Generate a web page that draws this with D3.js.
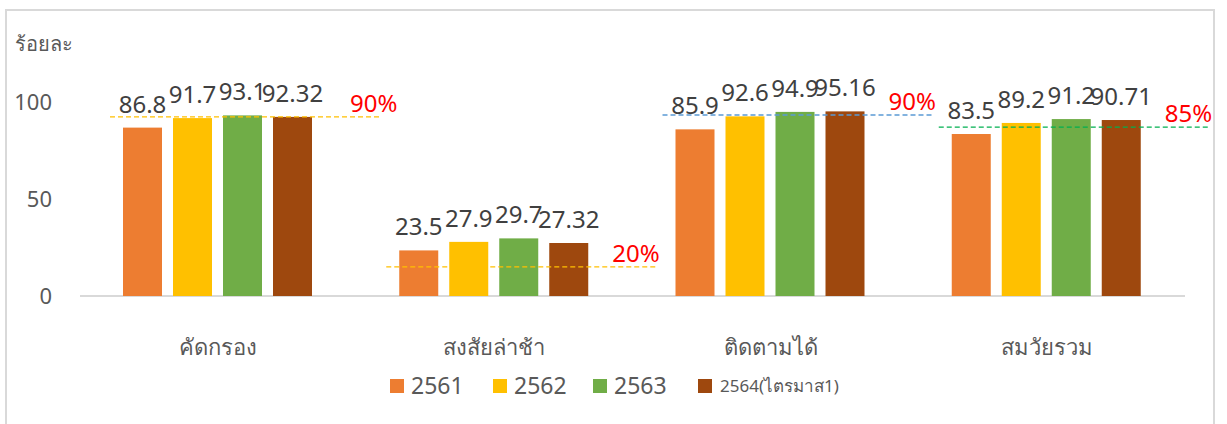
<!DOCTYPE html>
<html>
<head>
<meta charset="utf-8">
<script src="https://cdn.jsdelivr.net/npm/d3@7"></script>
<style>
  body { margin: 0; background: #fff; }
  svg { font-family: "Noto Sans", "Open Sans", sans-serif; }
</style>
</head>
<body>
<div id="chart"></div>
<script>
const categories = ["คัดกรอง", "สงสัยล่าช้า", "ติดตามได้", "สมวัยรวม"];
const seriesNames = ["2561", "2562", "2563", "2564(ไตรมาส1)"];
const v2561 = [86.8, 23.5, 85.9, 83.5];
const v2562 = [91.7, 27.9, 92.6, 89.2];
const v2563 = [93.1, 29.7, 94.9, 91.2];
const v2564 = [92.32, 27.32, 95.16, 90.71];
const targetLines = [92.3, 15, 93.3, 87];
const targetLabels = ["90%", "20%", "90%", "85%"];
const yTicks = [0, 50, 100];

const colors = ["#ED7D31", "#FFC000", "#70AD47", "#9E480E"];
const lineColors = ["#FFC000", "#FFC000", "#5B9BD5", "#00B050"];

const W = 1227, H = 424;
const MARGIN = {top: 102, left: 80, right: 42, bottom: 128};
const series = [v2561, v2562, v2563, v2564];

const svg = d3.select("#chart").append("svg")
    .attr("width", W).attr("height", H);

// outer frame
svg.append("rect")
    .attr("x", 6).attr("y", 10)
    .attr("width", 1208).attr("height", 430)
    .attr("fill", "none")
    .attr("stroke", "#d9d9d9")
    .attr("stroke-width", 2);

var x = d3.scaleBand()
    .domain(categories)
    .range([MARGIN.left, W - MARGIN.right]);

var xi = d3.scaleBand()
    .domain(seriesNames)
    .range([43, 43 + 189])
    .paddingInner(0.22);

var y = d3.scaleLinear()
    .domain([0, 100])
    .range([296, 102]);

// y tick labels
svg.append("g").selectAll("text")
    .data(yTicks).join("text")
    .attr("x", 52)
    .attr("y", d => y(d))
    .attr("dy", "0.35em")
    .attr("text-anchor", "end")
    .attr("fill", "#595959")
    .attr("font-size", 22)
    .text(d => d);

svg.append("text")
    .attr("x", 15).attr("y", 51)
    .attr("fill", "#595959")
    .attr("font-size", 20)
    .text("ร้อยละ");

// baseline
svg.append("line")
    .attr("x1", MARGIN.left).attr("x2", W - MARGIN.right)
    .attr("y1", y(0)).attr("y2", y(0))
    .attr("stroke", "#d9d9d9").attr("stroke-width", 2);

// bars
const groups = svg.append("g").selectAll("g")
    .data(categories).join("g")
    .attr("transform", d => `translate(${x(d)},0)`);

series.forEach((vals, si) => {
    groups.append("rect")
        .attr("x", xi(seriesNames[si]))
        .attr("width", xi.bandwidth())
        .attr("y", (d, i) => y(vals[i]))
        .attr("height", (d, i) => y(0) - y(vals[i]))
        .attr("fill", colors[si]);
});

// target lines
groups.append("line")
    .attr("x1", 30).attr("x2", 302)
    .attr("y1", (d, i) => y(targetLines[i]))
    .attr("y2", (d, i) => y(targetLines[i]))
    .attr("stroke", (d, i) => lineColors[i])
    .attr("stroke-width", 1.3)
    .attr("stroke-dasharray", "5,3");

// value labels
series.forEach((vals, si) => {
    groups.append("text")
        .attr("x", xi(seriesNames[si]) + xi.bandwidth() / 2)
        .attr("y", (d, i) => y(vals[i]) - 15)
        .attr("text-anchor", "middle")
        .attr("fill", "#404040")
        .attr("font-size", 24)
        .text((d, i) => vals[i]);
});

// target labels
groups.append("text")
    .attr("x", (d, i) => i == 0 ? 270 : 256)
    .attr("y", (d, i) => y(targetLines[i]) - 5)
    .attr("fill", "#FF0000")
    .attr("font-size", 24)
    .text((d, i) => targetLabels[i]);

// category labels
groups.append("text")
    .attr("x", x.bandwidth() / 2)
    .attr("y", 355)
    .attr("text-anchor", "middle")
    .attr("fill", "#595959")
    .attr("font-size", 22)
    .text(d => d);

// legend
const legendX = [390, 493, 593, 698];
const legend = svg.append("g").selectAll("g")
    .data(seriesNames).join("g")
    .attr("transform", (d, i) => `translate(${legendX[i]},379)`);

legend.append("rect")
    .attr("width", 14).attr("height", 14)
    .attr("fill", (d, i) => colors[i]);

legend.append("text")
    .attr("x", (d, i) => i == 3 ? 22 : 21)
    .attr("y", 7)
    .attr("dy", "0.35em")
    .attr("fill", "#595959")
    .attr("font-size", (d, i) => i == 3 ? 17 : 23)
    .text(d => d);
</script>
</body>
</html>
